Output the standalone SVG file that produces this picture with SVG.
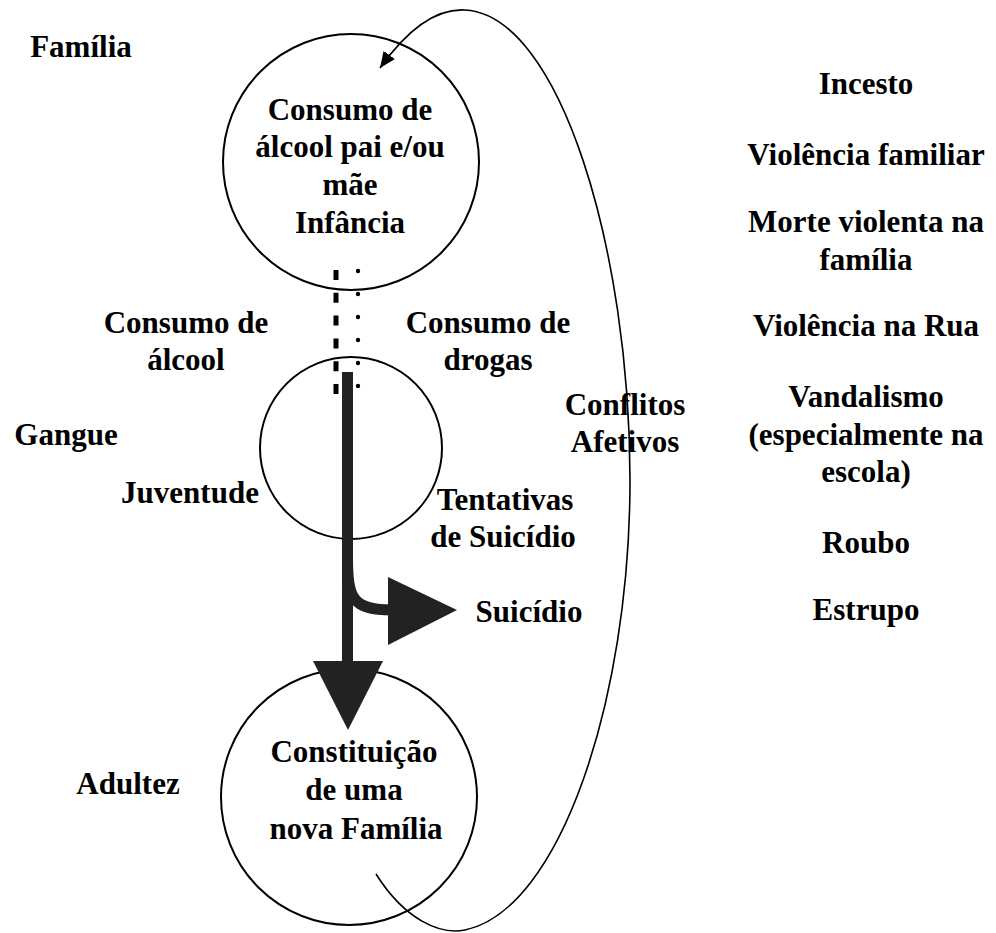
<svg xmlns="http://www.w3.org/2000/svg" width="996" height="933" viewBox="0 0 996 933">
<style>
text{font-family:"Liberation Serif","Times New Roman",serif;font-weight:bold;font-size:31px;fill:#000;text-anchor:middle}
.circ{fill:none;stroke:#000;stroke-width:2}
.loop{fill:none;stroke:#000;stroke-width:1.6}
.thick{fill:#222;stroke:none}
</style>
<defs>
<marker id="ah" markerUnits="userSpaceOnUse" markerWidth="18" markerHeight="14" refX="16" refY="7" orient="auto">
<path d="M0,0 L16,7 L0,14 Z" fill="#000"/>
</marker>
</defs>
<rect width="996" height="933" fill="#fff"/>

<g id="node-infancia">
<circle class="circ" cx="351" cy="162" r="128"/>
<text x="350" y="120">Consumo de</text>
<text x="350" y="157">álcool pai e/ou</text>
<text x="350" y="195">mãe</text>
<text x="350" y="233">Infância</text>
</g>

<g id="node-juventude">
<circle class="circ" cx="351" cy="448" r="91"/>
</g>

<g id="node-adultez">
<circle class="circ" cx="349" cy="797" r="128"/>
<text x="354" y="762">Constituição</text>
<text x="354" y="800">de uma</text>
<text x="356" y="839">nova Família</text>
</g>

<g id="connectors">
<line x1="336" y1="270" x2="336" y2="394" stroke="#000" stroke-width="5" stroke-dasharray="10,12.8"/>
<g fill="#000">
<circle cx="358" cy="271" r="2.2"/>
<circle cx="358" cy="294" r="2.2"/>
<circle cx="358" cy="317" r="2.2"/>
<circle cx="358" cy="340" r="2.2"/>
<circle cx="358" cy="363" r="2.2"/>
<circle cx="358" cy="386" r="2.2"/>
</g>
<rect class="thick" x="342" y="372" width="11" height="292"/>
<path d="M347.5,557 C347.5,598 352,610 392,610" fill="none" stroke="#222" stroke-width="11"/>
<polygon class="thick" points="388,577 388,645 457,610"/>
<polygon class="thick" points="313,661 383,661 348,730"/>
<path class="loop" d="M376,874 C405,920 440,935 465,930 C560,910 630,700 630,480 C630,250 560,15 465,10 C430,8 400,40 380,68" marker-end="url(#ah)"/>
</g>

<g id="labels">
<text x="81" y="57">Família</text>
<text x="186" y="333">Consumo de</text>
<text x="186" y="370">álcool</text>
<text x="488" y="333">Consumo de</text>
<text x="488" y="370">drogas</text>
<text x="66" y="445">Gangue</text>
<text x="190" y="503">Juventude</text>
<text x="625" y="415">Conflitos</text>
<text x="625" y="452">Afetivos</text>
<text x="505" y="510">Tentativas</text>
<text x="503" y="547">de Suicídio</text>
<text x="529" y="622">Suicídio</text>
<text x="128" y="794">Adultez</text>
</g>

<g id="right-list">
<text x="866" y="94">Incesto</text>
<text x="866" y="165">Violência familiar</text>
<text x="866" y="232">Morte violenta na</text>
<text x="866" y="270">família</text>
<text x="866" y="336">Violência na Rua</text>
<text x="866" y="407">Vandalismo</text>
<text x="866" y="445">(especialmente na</text>
<text x="866" y="482">escola)</text>
<text x="866" y="553">Roubo</text>
<text x="866" y="620">Estrupo</text>
</g>
</svg>
